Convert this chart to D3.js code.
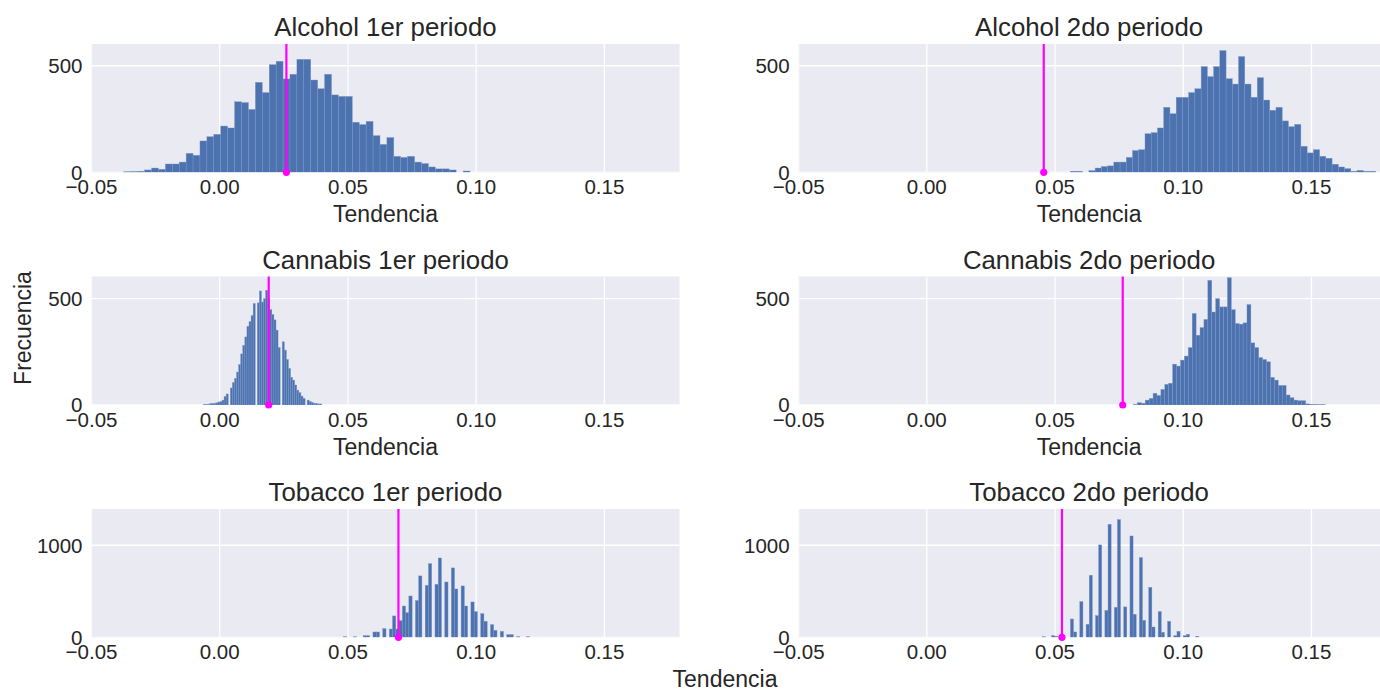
<!DOCTYPE html>
<html>
<head>
<meta charset="utf-8">
<script src="https://cdn.jsdelivr.net/npm/d3@7"></script>
<style>
  html, body { margin: 0; padding: 0; background: #fff; }
  svg { display: block; font-family: "Liberation Sans", Arial, sans-serif; }
</style>
</head>
<body>
<svg id="chart" width="1380" height="690"></svg>
<script>
// Bootstrap distributions of the trend, one panel per substance and period.
const panelTitles = [
  "Alcohol 1er periodo", "Alcohol 2do periodo",
  "Cannabis 1er periodo", "Cannabis 2do periodo",
  "Tobacco 1er periodo", "Tobacco 2do periodo"
];
const xTickValues = [-0.05, 0.00, 0.05, 0.10, 0.15];
const rowYTicks = [[0, 500], [0, 500], [0, 1000]];
const rowYMax = [602, 604, 1394];

// Histogram bins: left edge of the first bin and common bin width.
const binStart = [-0.0374, 0.0559, -0.0064, 0.0806, 0.0483, 0.0450];
const binWidth = [0.0027, 0.002432, 0.00081, 0.001526, 0.001273, 0.001222];

const alcohol1 = [3, 4, 5, 11, 20, 14, 39, 39, 48, 89, 80, 147, 167, 178, 217, 208, 331, 327, 295, 422,
  374, 505, 521, 438, 460, 530, 530, 433, 392, 460, 363, 356, 356, 235, 224, 239, 172, 131, 163, 75,
  70, 75, 48, 41, 25, 16, 16, 11, 0, 6];
const alcohol2 = [5, 5, 0, 8, 20, 27, 30, 48, 48, 70, 102, 106, 181, 186, 208, 305, 275, 352, 352, 374,
  392, 496, 449, 496, 571, 439, 414, 543, 414, 352, 444, 339, 291, 305, 241, 214, 225, 122, 91, 106,
  75, 66, 38, 25, 17, 5, 9, 5, 5];
const cannabis1 = [3, 3, 3, 6, 8, 8, 10, 14, 16, 23, 40, 52, 0, 80, 105, 125, 155, 190, 240, 280,
  320, 370, 392, 420, 477, 0, 480, 536, 484, 500, 539, 500, 448, 425, 400, 352, 270, 0, 297, 258,
  214, 172, 130, 117, 94, 70, 58, 42, 31, 0, 23, 16, 12, 8, 8, 5, 5];
const cannabis2 = [3, 11, 8, 23, 31, 55, 45, 73, 97, 102, 192, 183, 211, 230, 270, 430, 328, 364, 402, 586,
  437, 500, 461, 461, 598, 448, 383, 380, 386, 472, 292, 270, 223, 214, 203, 130, 117, 92, 92, 47,
  34, 23, 20, 20, 5, 3, 3, 2, 2];
const tobacco1 = [7, 0, 0, 7, 0, 0, 18, 18, 0, 58, 58, 0, 94, 0, 90, 232, 90, 181, 340, 268,
  449, 0, 399, 667, 0, 565, 801, 0, 576, 862, 0, 601, 0, 754, 525, 0, 558, 340, 0, 384,
  279, 0, 257, 174, 0, 138, 76, 0, 65, 0, 29, 29, 0, 7, 0, 0, 7];
const tobacco2 = [7, 0, 0, 18, 11, 0, 11, 0, 0, 199, 58, 0, 388, 0, 141, 674, 0, 236, 1004, 0,
  293, 1228, 0, 326, 1279, 0, 330, 0, 1101, 250, 0, 866, 185, 0, 543, 112, 0, 279, 54, 0,
  174, 0, 18, 65, 0, 18, 33, 0, 0, 11];

// Observed trend for each panel (vertical marker).
const observedTrend = [0.026, 0.0456, 0.0191, 0.0764, 0.0697, 0.0527];

const panelCounts = [alcohol1, alcohol2, cannabis1, cannabis2, tobacco1, tobacco2];

const COLORS = { bg: "#EAEAF2", grid: "#FFFFFF", bar: "#4C72B0", mark: "#FF00FF", text: "#262626" };
const cols = [{ x0: 91.5 }, { x0: 798.6 }];
const rows = [{ y0: 44, y1: 172.3 }, { y0: 276.5, y1: 405 }, { y0: 509, y1: 637.3 }];
const plotW = 588;
const xDomain = [-0.05, 0.1793];

const svg = d3.select("#chart");

panelTitles.forEach((title, p) => {
  const r = Math.floor(p / 2), c = p % 2;
  const { y0, y1 } = rows[r];
  const x0 = cols[c].x0;
  const x = d3.scaleLinear().domain(xDomain).range([x0, x0 + plotW]);
  const y = d3.scaleLinear().domain([0, rowYMax[r]]).range([y1, y0]);

  const g = svg.append("g");
  const clipId = "clip" + p;
  g.append("clipPath").attr("id", clipId)
    .append("rect").attr("x", x0).attr("y", y0).attr("width", plotW).attr("height", y1 - y0);

  g.append("rect").attr("x", x0).attr("y", y0).attr("width", plotW).attr("height", y1 - y0)
    .attr("fill", COLORS.bg);

  // grid
  const grid = g.append("g").attr("clip-path", `url(#${clipId})`);
  grid.selectAll("line.vx").data(xTickValues).join("line")
    .attr("x1", d => x(d)).attr("x2", d => x(d)).attr("y1", y0).attr("y2", y1)
    .attr("stroke", COLORS.grid).attr("stroke-width", 1.3);
  grid.selectAll("line.hy").data(rowYTicks[r]).join("line")
    .attr("x1", x0).attr("x2", x0 + plotW).attr("y1", d => y(d)).attr("y2", d => y(d))
    .attr("stroke", COLORS.grid).attr("stroke-width", 1.3);

  // histogram bars
  const counts = panelCounts[p];
  const bins = counts.map((n, i) => ({ lo: binStart[p] + i * binWidth[p], hi: binStart[p] + (i + 1) * binWidth[p], n }))
    .filter(d => d.n > 0);
  g.append("g").attr("clip-path", `url(#${clipId})`)
    .selectAll("rect").data(bins).join("rect")
    .attr("x", d => x(d.lo)).attr("width", d => x(d.hi) - x(d.lo))
    .attr("y", d => y(d.n)).attr("height", d => y(0) - y(d.n))
    .attr("fill", COLORS.bar)
    .attr("stroke", "#7d97c6").attr("stroke-width", 0.4);

  // observed value marker
  const xv = x(observedTrend[p]);
  g.append("line").attr("x1", xv).attr("x2", xv).attr("y1", y(0)).attr("y2", y0)
    .attr("stroke", COLORS.mark).attr("stroke-width", 2.2);
  g.append("circle").attr("cx", xv).attr("cy", y(0)).attr("r", 3.6).attr("fill", COLORS.mark);

  // y tick labels
  g.selectAll("text.yt").data(rowYTicks[r]).join("text")
    .attr("x", x0 - 9).attr("y", d => y(d)).attr("dy", "0.36em")
    .attr("text-anchor", "end").attr("font-size", 20.5).attr("fill", COLORS.text)
    .text(d => d3.format("d")(d));

  // x tick labels
  g.selectAll("text.xt").data(xTickValues).join("text")
    .attr("x", d => x(d)).attr("y", y1 + 22)
    .attr("text-anchor", "middle").attr("font-size", 20.5).attr("fill", COLORS.text)
    .text(d => d3.format(".2f")(d).replace("-", "\u2212"));

  // title
  g.append("text").attr("x", x0 + plotW / 2 - (c === 1 ? 3.5 : 0)).attr("y", y0 - 8)
    .attr("text-anchor", "middle").attr("font-size", 25.8).attr("fill", COLORS.text)
    .text(title);

  // per-panel x label on the first two rows
  if (r < 2) {
    g.append("text").attr("x", x0 + plotW / 2 - (c === 1 ? 3.5 : 0)).attr("y", y1 + 50)
      .attr("text-anchor", "middle").attr("font-size", 23).attr("fill", COLORS.text)
      .text("Tendencia");
  }
});

// shared axis labels
svg.append("text").attr("x", 725).attr("y", 687)
  .attr("text-anchor", "middle").attr("font-size", 23).attr("fill", COLORS.text)
  .text("Tendencia");
svg.append("text").attr("transform", "translate(31,328) rotate(-90)")
  .attr("text-anchor", "middle").attr("font-size", 23).attr("fill", COLORS.text)
  .text("Frecuencia");
</script>
</body>
</html>
